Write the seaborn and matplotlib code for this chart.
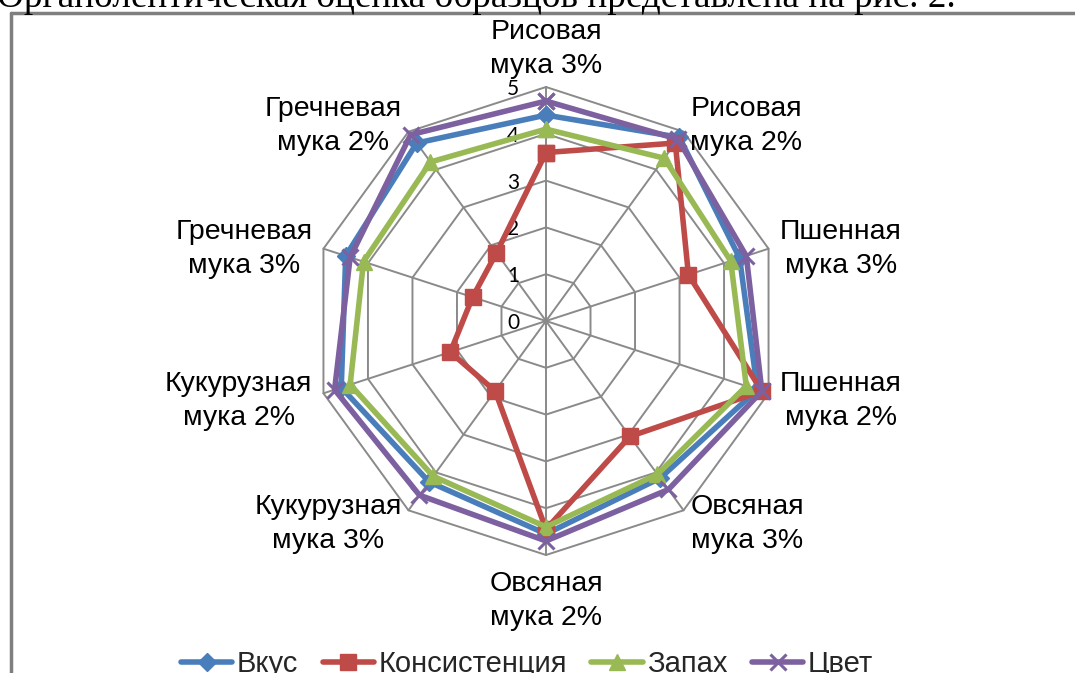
import numpy as np
import pandas as pd
import matplotlib
matplotlib.use("Agg")
import matplotlib.pyplot as plt
import matplotlib.transforms as mtransforms
from matplotlib.lines import Line2D
import seaborn as sns

# Organoleptic scores of the bread samples (0-5 scale)
categories = ["Рисовая\nмука 3%", "Рисовая\nмука 2%", "Пшенная\nмука 3%", "Пшенная\nмука 2%",
              "Овсяная\nмука 3%", "Овсяная\nмука 2%", "Кукурузная\nмука 3%", "Кукурузная\nмука 2%",
              "Гречневая\nмука 3%", "Гречневая\nмука 2%"]
taste = [4.4, 4.85, 4.35, 4.75, 4.15, 4.55, 4.25, 4.6, 4.5, 4.7]
consistency = [3.6, 4.7, 3.2, 4.85, 3.05, 4.45, 1.85, 2.15, 1.65, 1.8]
smell = [4.1, 4.3, 4.15, 4.5, 4.05, 4.4, 4.1, 4.4, 4.1, 4.2]
colour = [4.7, 4.8, 4.5, 4.85, 4.45, 4.7, 4.6, 4.75, 4.4, 4.92]
series_names = ["Вкус", "Консистенция", "Запах", "Цвет"]
ticks = [0, 1, 2, 3, 4, 5]
caption = "Органолептическая оценка образцов представлена на рис. 2."

sns.set_theme(style="white")
plt.rcParams["font.family"] = ["Liberation Sans", "DejaVu Sans"]

W, H = 1075, 673
fig = plt.figure(figsize=(W / 100, H / 100), dpi=100)
fig.patch.set_facecolor("white")

# page text line above the figure frame
fig.text(-0.003, 1 - 7 / H, caption, family=["Liberation Serif", "DejaVu Serif"],
         fontsize=26.8, ha="left", va="baseline", color="black")

# figure frame
frame_kw = dict(color="#7f7f7f", lw=2.5, transform=fig.transFigure)
fig.add_artist(Line2D([11 / W, 11 / W], [0, 1 - 13 / H], **frame_kw))
fig.add_artist(Line2D([11 / W, 1.0], [1 - 13 / H, 1 - 13 / H], **frame_kw))

cx, cy, R = 546, 321, 234
ax = fig.add_axes([(cx - R) / W, 1 - (cy + R) / H, 2 * R / W, 2 * R / H], projection="polar")
ax.set_theta_zero_location("N")
ax.set_theta_direction(-1)
ax.set_ylim(0, ticks[-1])
ax.grid(False)
ax.spines["polar"].set_visible(False)
ax.set_xticks([])
ax.set_yticks([])
ax.patch.set_alpha(0)

n = len(categories)
theta = np.arange(n) * 2 * np.pi / n
closed = np.append(theta, theta[0])

# decagonal web
grid_kw = dict(color="#8a8a8a", lw=1.4, zorder=1, clip_on=False)
for t in ticks[1:]:
    ax.plot(closed, [t] * (n + 1), **grid_kw)
for a in theta:
    ax.plot([a, a], [0, ticks[-1]], **grid_kw)

# radial value labels
off = mtransforms.offset_copy(ax.transData, fig=fig, x=-33, y=-2, units="dots")
for t in ticks:
    ax.text(0, t, str(t), transform=off, ha="center", va="center",
            fontsize=15, family=["Lato", "DejaVu Sans"], color="black")

# category labels around the web
lab_off = mtransforms.offset_copy(ax.transData, fig=fig, x=0, y=-4, units="dots")
for a, lab in zip(theta, categories):
    s, c = np.sin(a), np.cos(a)
    ha = "left" if s > 0.01 else ("right" if s < -0.01 else "center")
    va = "center" if abs(s) > 0.01 else ("bottom" if c > 0 else "top")
    ax.text(a, 5.25, lab, transform=lab_off, ha=ha, va=va, multialignment="center",
            fontsize=20.5, color="black", linespacing=1.4)

values = [taste, consistency, smell, colour]
long = pd.concat([
    pd.DataFrame({"theta": closed, "value": np.append(v, v[0]), "series": name})
    for name, v in zip(series_names, values)
], ignore_index=True)

styles = {
    "Вкус": ("#4A7EBB", "D", 9, 1),
    "Консистенция": ("#BE4B48", "s", 12, 1),
    "Запах": ("#98B954", "^", 12, 1),
    "Цвет": ("#7D60A0", "x", 11, 2.2),
}
for name in series_names:
    col, mk, ms, mew = styles[name]
    sns.lineplot(data=long[long["series"] == name], x="theta", y="value",
                 sort=False, estimator=None, color=col, marker=mk, markersize=ms,
                 markeredgecolor=col, markeredgewidth=mew, linewidth=4,
                 label=name, ax=ax, clip_on=False, zorder=3)

ax.set_xlabel("")
ax.set_ylabel("")
handles, labels = ax.get_legend_handles_labels()
if ax.get_legend() is not None:
    ax.get_legend().remove()
fig.legend(handles, labels, loc="center", bbox_to_anchor=(527 / W, 1 - 664 / H),
           ncol=4, frameon=False, fontsize=21, handlelength=1.75,
           columnspacing=0.85, handletextpad=0.15)

fig.savefig("out.png", dpi=100)
